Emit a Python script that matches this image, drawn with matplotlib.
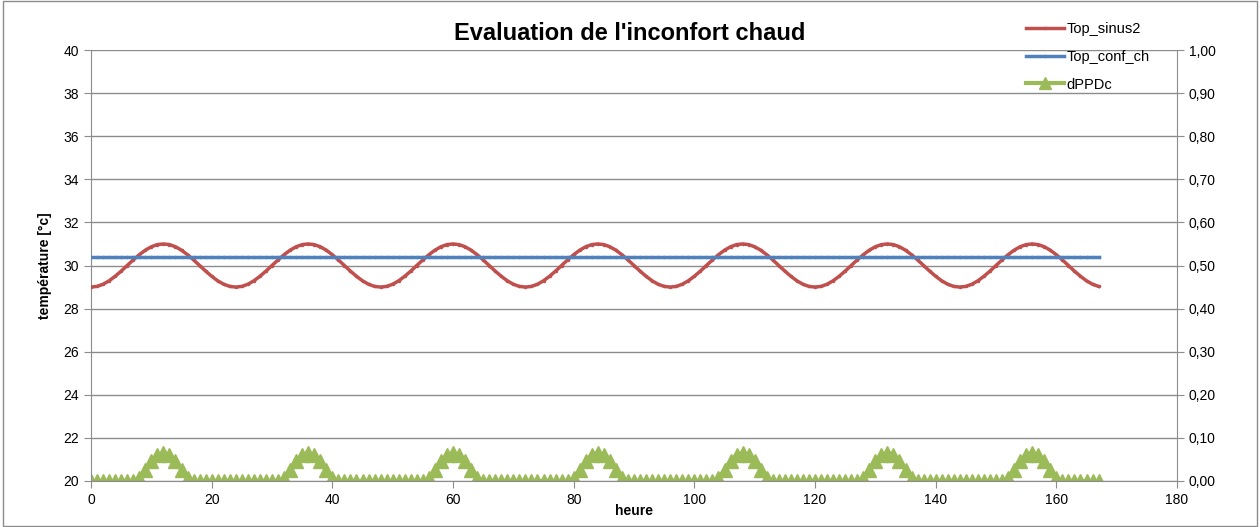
import numpy as np
import matplotlib.pyplot as plt
from matplotlib.ticker import FuncFormatter
from matplotlib.lines import Line2D

plt.rcParams['font.family'] = ['Liberation Sans', 'DejaVu Sans']

# one day profile (hours 0..23), repeated over the 7 days
top_sinus2_day = [29.00, 29.03, 29.13, 29.29, 29.50, 29.74, 30.00, 30.26,
                  30.50, 30.71, 30.87, 30.97, 31.00, 30.97, 30.87, 30.71,
                  30.50, 30.26, 30.00, 29.74, 29.50, 29.29, 29.13, 29.03]
dppdc_day = [0, 0, 0, 0, 0, 0, 0, 0,
             0.006, 0.026, 0.046, 0.060, 0.065, 0.060, 0.046, 0.026,
             0.006, 0, 0, 0, 0, 0, 0, 0]
top_conf_ch = 30.4
n_days = 7

hours = np.arange(24 * n_days)
top_sinus2 = np.tile(top_sinus2_day, n_days)
dppdc = np.tile(dppdc_day, n_days)

red = '#C0504D'
blue = '#4F81BD'
green = '#9BBB59'
grey = '#8C8C8C'

fig = plt.figure(figsize=(12.6, 5.27), dpi=100)
ax = fig.add_axes([91 / 1260, 1 - 481 / 527, (1177 - 91) / 1260, (481 - 50) / 527])
ax2 = ax.twinx()

ax2.plot(hours, dppdc, color=green, lw=3, marker='^', ms=10, mec=green, zorder=2)
ax.plot(hours, top_sinus2, color=red, lw=2.5, marker='o', ms=1.5, zorder=3)
ax.plot(hours, np.full(len(hours), top_conf_ch), color=blue, lw=2.5, marker='o', ms=1.5, zorder=4)

ax.set_zorder(ax2.get_zorder() + 1)
ax.patch.set_visible(False)

ax.set_xlim(0, 180)
ax.set_ylim(20, 40)
ax2.set_ylim(0, 1)
ax.set_xticks(range(0, 181, 20))
ax.set_yticks(range(20, 41, 2))
ax2.set_yticks(np.arange(0, 1.01, 0.1))
ax2.yaxis.set_major_formatter(FuncFormatter(lambda v, p: f"{v:.2f}".replace('.', ',')))

ax.grid(axis='y', color=grey, lw=1)
for a in (ax, ax2):
    for s in a.spines.values():
        s.set_visible(False)
    a.tick_params(colors=grey, labelcolor='black', labelsize=10, length=5)
ax.spines['left'].set_visible(True)
ax.spines['left'].set_color(grey)
ax.spines['bottom'].set_visible(True)
ax.spines['bottom'].set_color(grey)
ax2.spines['right'].set_visible(True)
ax2.spines['right'].set_color(grey)

ax.set_xlabel('heure', fontsize=10, fontweight='bold', labelpad=-2)
ax.set_ylabel('température [°c]', fontsize=10, fontweight='bold', labelpad=8)
fig.text(0.5, 1 - 33 / 527, "Evaluation de l'inconfort chaud", ha='center', va='center',
         fontsize=17, fontweight='bold')

handles = [Line2D([], [], color=red, lw=2.5, marker='o', ms=1.5),
           Line2D([], [], color=blue, lw=2.5, marker='o', ms=1.5),
           Line2D([], [], color=green, lw=3, marker='^', ms=9)]
fig.legend(handles, ['Top_sinus2', 'Top_conf_ch', 'dPPDc'], loc='upper left',
           bbox_to_anchor=(1020 / 1260, 1 - 16 / 527), frameon=False, fontsize=10.5,
           handlelength=2.6, handletextpad=0.2, labelspacing=0.95, borderaxespad=0)

fig.patches.append(plt.Rectangle((0.002, 0.002), 0.996, 0.996, transform=fig.transFigure,
                                 fill=False, edgecolor=grey, lw=1))

fig.savefig('out.png', dpi=100)
